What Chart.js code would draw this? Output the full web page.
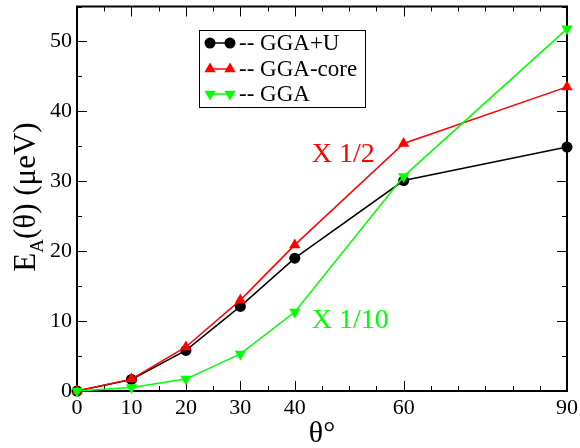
<!DOCTYPE html>
<html>
<head>
<meta charset="utf-8">
<script src="https://cdn.jsdelivr.net/npm/chart.js@4.4.1/dist/chart.umd.min.js"></script>
<style>
  html, body { margin: 0; padding: 0; background: #fff; }
  canvas { display: block; }
</style>
</head>
<body>
<canvas id="chart" width="580" height="448"></canvas>
<script>
// angles (degrees)
const angles = [0, 10, 20, 30, 40, 60, 90];
// anisotropy energy, μeV
const ggaU = [0, 1.65, 5.8, 12.1, 19.0, 30.1, 34.9];
const ggaCore = [0, 1.7, 6.3, 13.0, 20.9, 35.4, 43.5];
const gga = [0, 0.5, 1.7, 5.3, 11.3, 30.7, 51.8];
const seriesNames = ['GGA+U', 'GGA-core', 'GGA'];
const xTickLabels = [0, 10, 20, 30, 40, 60, 90];
const yTickLabels = [0, 10, 20, 30, 40, 50];
const notes = [
  { text: 'X 1/2', x: 43.1, y: 33.8, color: '#ff0000' },
  { text: 'X 1/10', x: 43.1, y: 10.0, color: '#00ff00' }
];

const SERIF = "'Liberation Serif', 'Times New Roman', Tinos, 'DejaVu Serif', serif";

function toPoints(values) {
  return angles.map((a, i) => ({ x: a, y: values[i] }));
}

const styles = [
  { color: '#000000', pointStyle: 'circle', radius: 5.5, rotation: 0, order: 2 },
  { color: '#ff0000', pointStyle: 'triangle', radius: 6.5, rotation: 0, order: 1 },
  { color: '#00ff00', pointStyle: 'triangle', radius: 6.5, rotation: 180, order: 0 }
];

const datasets = [ggaU, ggaCore, gga].map((values, i) => ({
  label: seriesNames[i],
  data: toPoints(values),
  borderColor: styles[i].color,
  backgroundColor: styles[i].color,
  borderWidth: 1.5,
  pointStyle: styles[i].pointStyle,
  pointRadius: styles[i].radius,
  pointRotation: styles[i].rotation,
  pointBorderWidth: 0,
  order: styles[i].order,
  tension: 0,
  clip: false
}));

// marker used in the legend (same shapes as the chart points)
function marker(ctx, style, x, y) {
  const r = style.radius;
  ctx.beginPath();
  if (style.pointStyle === 'circle') {
    ctx.arc(x, y, r, 0, Math.PI * 2);
  } else {
    const dir = style.rotation === 180 ? -1 : 1;
    ctx.moveTo(x, y - dir * r);
    ctx.lineTo(x + r * Math.sqrt(3) / 2, y + dir * r / 2);
    ctx.lineTo(x - r * Math.sqrt(3) / 2, y + dir * r / 2);
    ctx.closePath();
  }
  ctx.fill();
}

const frame = {
  id: 'frame',
  beforeDatasetsDraw(chart) {
    const ctx = chart.ctx;
    const a = chart.chartArea;
    const xs = chart.scales.x;
    const ys = chart.scales.y;
    ctx.save();
    ctx.strokeStyle = '#000';
    ctx.lineWidth = 1;
    for (let v = 0; v <= 90; v += 5) {
      const px = Math.round(xs.getPixelForValue(v)) + 0.5;
      const len = xTickLabels.includes(v) ? 10 : 5;
      ctx.beginPath();
      ctx.moveTo(px, a.bottom); ctx.lineTo(px, a.bottom - len);
      ctx.moveTo(px, a.top); ctx.lineTo(px, a.top + len);
      ctx.stroke();
    }
    for (let v = 0; v <= 55; v += 5) {
      const py = Math.round(ys.getPixelForValue(v)) + 0.5;
      const len = v % 10 === 0 ? 10 : 5;
      ctx.beginPath();
      ctx.moveTo(a.left, py); ctx.lineTo(a.left + len, py);
      ctx.moveTo(a.right, py); ctx.lineTo(a.right - len, py);
      ctx.stroke();
    }
    ctx.lineWidth = 2;
    ctx.strokeRect(a.left, a.top, a.right - a.left, a.bottom - a.top);
    ctx.restore();
  },
  afterDraw(chart) {
    const ctx = chart.ctx;
    const a = chart.chartArea;
    const xs = chart.scales.x;
    const ys = chart.scales.y;
    ctx.save();

    // legend box
    const bx = 199, by = 30, bw = 166, bh = 77;
    ctx.fillStyle = '#fff';
    ctx.fillRect(bx, by, bw, bh);
    ctx.strokeStyle = '#000';
    ctx.lineWidth = 1;
    ctx.strokeRect(bx + 0.5, by + 0.5, bw, bh);
    const rows = [43, 69, 94];
    seriesNames.forEach((name, i) => {
      const s = styles[i];
      const y = rows[i];
      ctx.strokeStyle = s.color;
      ctx.lineWidth = 1.5;
      ctx.beginPath();
      ctx.moveTo(210, y); ctx.lineTo(230, y);
      ctx.stroke();
      ctx.fillStyle = s.color;
      marker(ctx, s, 210, y);
      marker(ctx, s, 230, y);
      ctx.fillStyle = '#000';
      ctx.font = '23px ' + SERIF;
      ctx.textBaseline = 'middle';
      ctx.textAlign = 'left';
      ctx.fillText('-- ' + name, 239, y + 1);
    });

    // notes
    ctx.font = '28px ' + SERIF;
    ctx.textBaseline = 'middle';
    ctx.textAlign = 'left';
    notes.forEach(n => {
      ctx.fillStyle = n.color;
      ctx.fillText(n.text, xs.getPixelForValue(n.x), ys.getPixelForValue(n.y));
    });

    // x title
    ctx.fillStyle = '#000';
    ctx.font = '30px ' + SERIF;
    ctx.textAlign = 'center';
    ctx.textBaseline = 'alphabetic';
    ctx.fillText('θ°', (a.left + a.right) / 2, 442);

    // y title with subscript
    ctx.save();
    ctx.translate(35, 197);
    ctx.rotate(-Math.PI / 2);
    ctx.textAlign = 'left';
    const big = '31px ' + SERIF, small = '19px ' + SERIF;
    ctx.font = big;
    const wE = ctx.measureText('E').width;
    const wRest = ctx.measureText('(θ) (μeV)').width;
    ctx.font = small;
    const wA = ctx.measureText('A').width;
    const x0 = -(wE + wA + wRest) / 2;
    ctx.font = big;
    ctx.fillText('E', x0, 0);
    ctx.font = small;
    ctx.fillText('A', x0 + wE, 8);
    ctx.font = big;
    ctx.fillText('(θ) (μeV)', x0 + wE + wA, 0);
    ctx.restore();

    ctx.restore();
  }
};

function draw() {
  new Chart(document.getElementById('chart'), {
    type: 'line',
    data: { datasets },
    plugins: [frame],
    options: {
      responsive: false,
      animation: false,
      layout: { padding: { top: 2, right: 13, left: 0, bottom: 0 } },
      plugins: { legend: { display: false }, tooltip: { enabled: false } },
      scales: {
        x: {
          type: 'linear',
          min: 0,
          max: 90,
          grid: { display: false, drawTicks: false },
          border: { display: false },
          ticks: {
            stepSize: 5,
            autoSkip: false,
            maxRotation: 0,
            padding: 4,
            color: '#000',
            font: { family: SERIF, size: 22 },
            callback: v => xTickLabels.includes(v) ? String(v) : ''
          },
          afterFit(scale) {
            scale.height = 57;
            scale.paddingLeft = 0; scale.paddingRight = 0;
          }
        },
        y: {
          min: 0,
          max: 55,
          grid: { display: false, drawTicks: false },
          border: { display: false },
          ticks: {
            stepSize: 5,
            autoSkip: false,
            padding: 5,
            color: '#000',
            font: { family: SERIF, size: 22 },
            callback: v => yTickLabels.includes(v) ? String(v) : ''
          },
          afterFit(scale) {
            scale.width = 77;
            scale.paddingTop = 0; scale.paddingBottom = 0;
          }
        }
      }
    }
  });
}

if (document.fonts && document.fonts.load) {
  document.fonts.load("22px 'Liberation Serif'").then(draw, draw);
} else {
  draw();
}
</script>
</body>
</html>
